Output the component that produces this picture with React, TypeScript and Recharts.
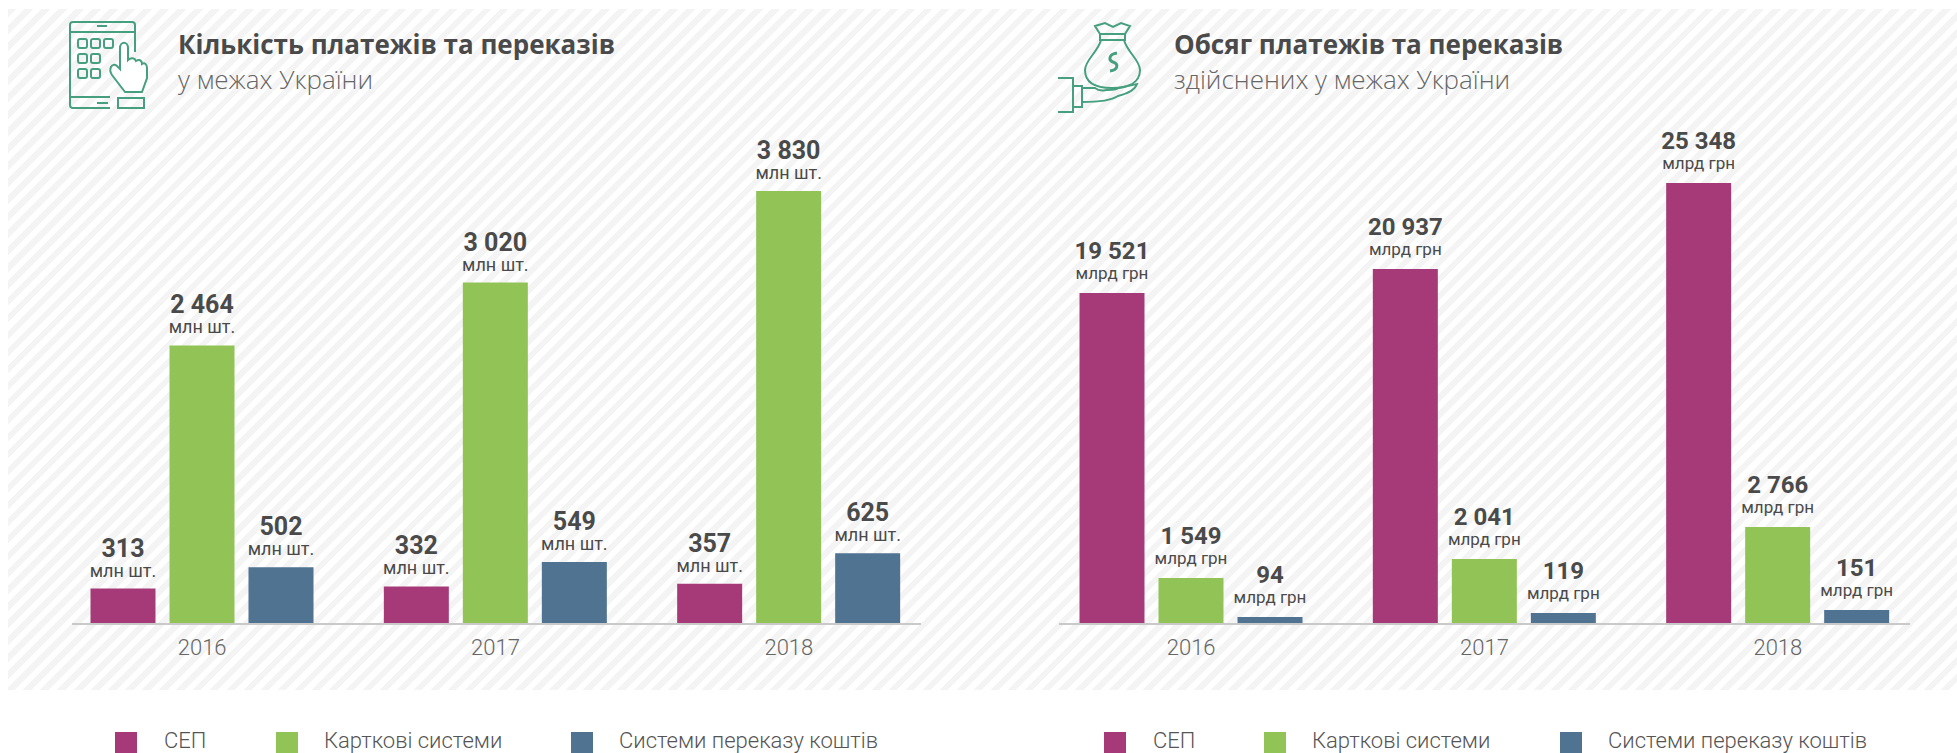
import React from 'react'
import { BarChart, Bar, XAxis, YAxis, LabelList } from 'recharts'

const years = ['2016', '2017', '2018']
const seriesNames = ['СЕП', 'Карткові системи', 'Системи переказу коштів']

// left panel: count of payments, mln pcs
const countSep = [313, 332, 357]
const countCard = [2464, 3020, 3830]
const countTransfer = [502, 549, 625]

// right panel: printed volumes, bn UAH
const volumeSep = [19521, 20937, 25348]
const volumeCard = [1549, 2041, 2766]
const volumeTransfer = [94, 119, 151]

// the small bars on the right are not to scale with their printed numbers in the
// original, so these are the lengths
const drawnSep = [19020, 20400, 25348]
const drawnCard = [2640, 3740, 5570]
const drawnTransfer = [400, 630, 800]

const COLORS = ['#a63a78', '#92c356', '#4f7390']
const TEXT = '#4a4a4a'
const ICON = '#46a07f'
const FONT = 'Roboto, sans-serif'

const fmt = (v: number) => v.toString().replace(/\B(?=(\d{3})+$)/g, ' ')

const countData = years.map((year, i) => ({
  year,
  a: countSep[i], b: countCard[i], c: countTransfer[i],
  aText: countSep[i], bText: countCard[i], cText: countTransfer[i],
}))

const volumeData = years.map((year, i) => ({
  year,
  a: drawnSep[i], b: drawnCard[i], c: drawnTransfer[i],
  aText: volumeSep[i], bText: volumeCard[i], cText: volumeTransfer[i],
}))

const makeLabel = (unit: string, big: number, small: number, shift: number) => (props: any) => {
  const { x, y, width, value } = props
  const cx = x + width / 2
  return (
    <g fontFamily={FONT} textAnchor="middle">
      <text x={cx} y={y - 34 + shift} fontSize={big} fontWeight={700} fill={TEXT}>{fmt(value)}</text>
      <text x={cx} y={y - 14 + shift} fontSize={small} fill={TEXT}>{unit}</text>
    </g>
  )
}

function Panel({ data, max, unit, left, width, pad, big, small, shift }: any) {
  return (
    <div style={{ position: 'absolute', left: 0, top: 0 }}>
      <BarChart
        width={1957}
        height={753}
        data={data}
        barSize={65}
        barGap={14}
        margin={{ left, right: 1957 - left - width, top: 100, bottom: 99 }}
      >
        <XAxis
          dataKey="year"
          height={30}
          padding={pad}
          tickLine={false}
          tickMargin={9}
          axisLine={{ stroke: '#c9c9c9', strokeWidth: 2 }}
          tick={{ fill: '#666', fontSize: 22, fontFamily: FONT, fontWeight: 300 }}
        />
        <YAxis hide domain={[0, max]} />
        {['a', 'b', 'c'].map((k, i) => (
          <Bar key={k} dataKey={k} fill={COLORS[i]} isAnimationActive={false}>
            <LabelList dataKey={k + 'Text'} content={makeLabel(unit, big, small, shift)} />
          </Bar>
        ))}
      </BarChart>
    </div>
  )
}

function Legend({ swatches, texts }: { swatches: number[], texts: number[] }) {
  return (
    <>
      {seriesNames.map((name, i) => (
        <React.Fragment key={name}>
          <div style={{ position: 'absolute', left: swatches[i], top: 732, width: 22, height: 21, background: COLORS[i] }} />
          <div style={{ position: 'absolute', left: texts[i], top: 730, fontFamily: FONT, fontSize: 22, fontWeight: 300, color: '#555', lineHeight: '22px', whiteSpace: 'nowrap' }}>{name}</div>
        </React.Fragment>
      ))}
    </>
  )
}

function Heading({ left, title, sub }: { left: number, title: string, sub: string }) {
  return (
    <>
      <div style={{ position: 'absolute', left, top: 27, fontFamily: '"Open Sans", sans-serif', fontSize: 26, fontWeight: 700, color: TEXT, lineHeight: '34px', whiteSpace: 'nowrap' }}>{title}</div>
      <div style={{ position: 'absolute', left, top: 62, fontFamily: '"Open Sans", sans-serif', fontSize: 26, fontWeight: 300, color: '#666', lineHeight: '34px', whiteSpace: 'nowrap' }}>{sub}</div>
    </>
  )
}

function TabletIcon() {
  const sq = [[78, 39], [91, 39], [104, 39], [78, 54], [91, 54], [78, 69], [91, 69]]
  return (
    <svg width={160} height={120} style={{ position: 'absolute', left: 0, top: 0 }} fill="none" stroke={ICON} strokeWidth={2}>
      <path d="M135 52V25Q135 22 132 22H73Q70 22 70 25V105Q70 108 73 108H110" />
      <path d="M70 32H135M70 97H110M97 26H107M97 103H108" />
      {sq.map(([x, y], i) => <rect key={i} x={x} y={y} width={9} height={9} rx={2} />)}
      <path d="M125 92L112 75C108 69 112 62 117 66L120 69V48C120 41 128 41 128 48V60C131 57 135 58 136 61C139 59 142 60 142 64C145 62 147 65 147 68V78L142 92Z" fill="#fff" />
      <rect x={118} y={98} width={26} height={10} />
    </svg>
  )
}

function BagIcon() {
  return (
    <svg width={140} height={120} style={{ position: 'absolute', left: 1050, top: 10 }} fill="none" stroke={ICON} strokeWidth={2}>
      <path d="M45 16L55 13L63 17L71 13L80 16L75 24H50Z" />
      <rect x={50} y={24} width={25} height={6} />
      <path d="M51 30C48 42 35 50 35 60C35 74 48 78 62 78C76 78 90 74 90 60C90 50 77 42 74 30" />
      <path d="M67 43C59 44 58 50 63 52C69 54 68 60 60 61" strokeWidth={3} />
      <path d="M8 68H23V102H8M23 76H32V97H23M32 78H45C50 82 54 80 57 80C62 80 68 80 68 78L87 74C85 80 76 84 68 86C62 90 50 92 32 92" />
    </svg>
  )
}

export default function App() {
  return (
    <div style={{ position: 'absolute', left: 0, top: 0, width: 1957, height: 753, overflow: 'hidden', background: '#fff' }}>
      <div style={{ position: 'absolute', left: 8, top: 9, width: 1949, height: 681, background: 'repeating-linear-gradient(135deg, #f4f4f4 0 6px, #fff 6px 12px)' }} />
      <TabletIcon />
      <BagIcon />
      <Heading left={178} title="Кількість платежів та переказів" sub="у межах України" />
      <Heading left={1174} title="Обсяг платежів та переказів" sub="здійснених у межах України" />
      <Panel data={countData} max={4635} unit="млн шт." left={72} width={849} pad={{ left: -16.5, right: -14.5 }} big={25} small={18} shift={2} />
      <Panel data={volumeData} max={30120} unit="млрд грн" left={1059} width={851} pad={{ left: -14.5, right: -14.5 }} big={24} small={17} shift={0} />
      <Legend swatches={[115, 276, 571]} texts={[164, 324, 619]} />
      <Legend swatches={[1104, 1264, 1560]} texts={[1153, 1312, 1608]} />
    </div>
  )
}
